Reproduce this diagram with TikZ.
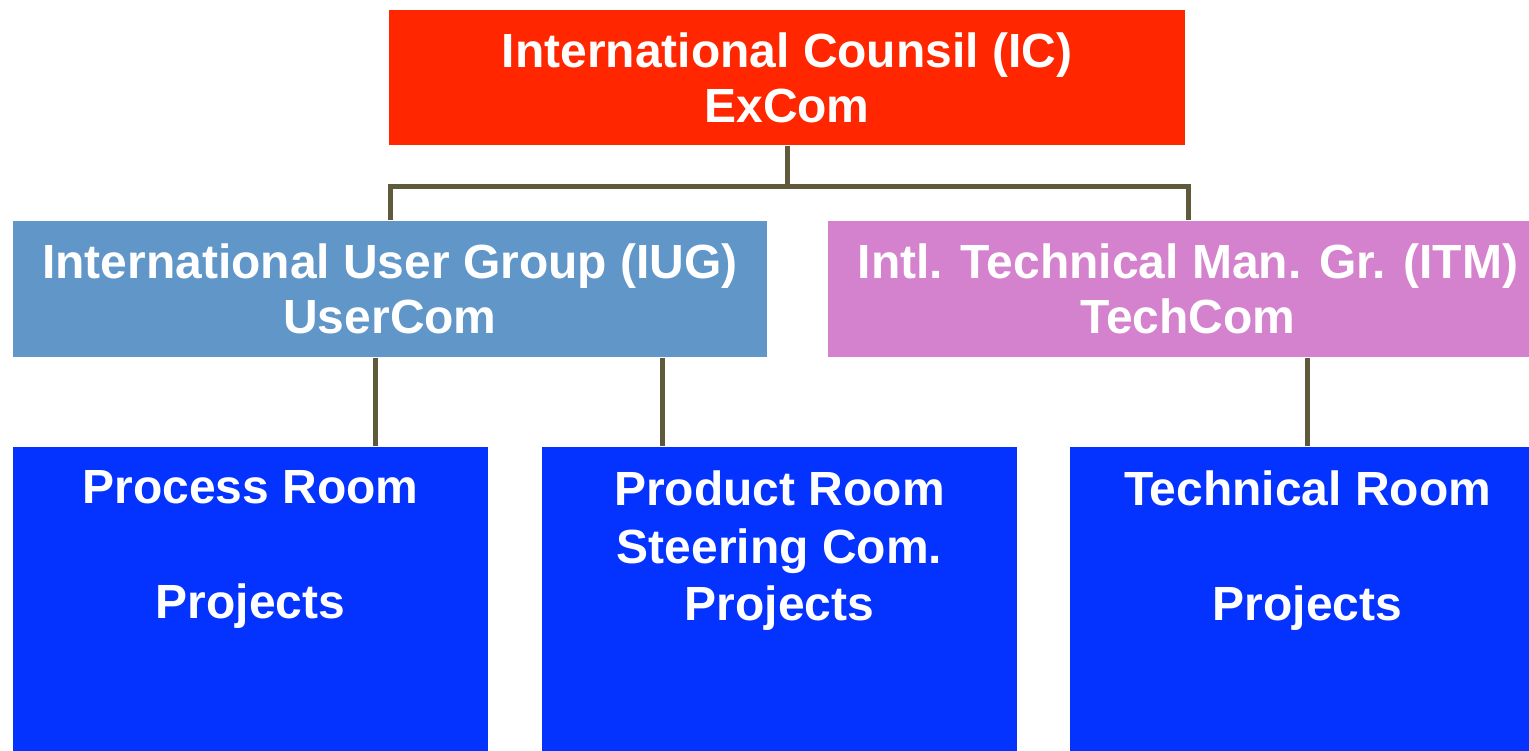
\documentclass[tikz,border=0pt]{standalone}
\usepackage{fontspec}
\setmainfont{Liberation Sans}
\definecolor{icred}{HTML}{FF2600}
\definecolor{iugblue}{HTML}{6196C8}
\definecolor{itmpink}{HTML}{D582CE}
\definecolor{roomblue}{HTML}{0433FF}
\definecolor{linkolive}{HTML}{5E5A3B}
\tikzset{
  board/.style={fill=#1,draw=none,text=white,align=center,inner sep=0pt,
    font=\fontsize{13.65pt}{15.6pt}\selectfont\bfseries},
  room/.style={fill=roomblue,draw=none,anchor=north,minimum width=47.5mm,minimum height=32mm,inner sep=0pt},
  roomtext/.style={anchor=north,text=white,align=center,inner sep=0pt,
    font=\fontsize{13.65pt}{16.4pt}\selectfont\bfseries},
  link/.style={draw=linkolive,line width=0.5mm}
}
\begin{document}
\begin{tikzpicture}[x=0.1mm,y=-0.1mm]
    \useasboundingbox (0,0) rectangle (1529,750);
    \clip (0,0) rectangle (1529,750);

    % top level
    \node[board=icred,minimum width=79.6mm,minimum height=13.5mm] (ic) at (787,77.5)
      {International Counsil (IC)\\ExCom};

    % second level
    \node[board=iugblue,minimum width=75.4mm,minimum height=13.6mm] (iug) at (390,289)
      {International User Group (IUG)\\UserCom};
    \node[board=itmpink,minimum width=72mm,minimum height=13.6mm] (itm) at (1188,289)
      {Intl. Technical Man. Gr. (ITM)\\TechCom};

    % rooms
    \node[room] (proc) at (250.5,446) {};
    \node[room] (prod) at (779.5,446) {};
    \node[room] (tech) at (1307.5,446) {};
    \node[roomtext] (proctxt) at ([yshift=-2.4mm]proc.north) {Process Room\\[\baselineskip]Projects};
    \node[roomtext] (prodtxt) at ([yshift=-2.4mm]prod.north) {Product Room\\Steering Com.\\Projects};
    \node[roomtext] (techtxt) at ([yshift=-2.4mm]tech.north) {Technical Room\\[\baselineskip]Projects};

    % connectors
    \coordinate (bus) at (787,187);
    \coordinate (procin) at ([xshift=12.45mm]proc.north);
    \coordinate (prodin) at ([xshift=-11.75mm]prod.north);
    \draw[link] (ic.south) -- (bus);
    \draw[link] (iug.north) |- (bus) -| (itm.north);
    \draw[link] (procin |- iug.south) -- (procin);
    \draw[link] (prodin |- iug.south) -- (prodin);
    \draw[link] (itm.south -| tech.north) -- (tech.north);
\end{tikzpicture}
\end{document}
